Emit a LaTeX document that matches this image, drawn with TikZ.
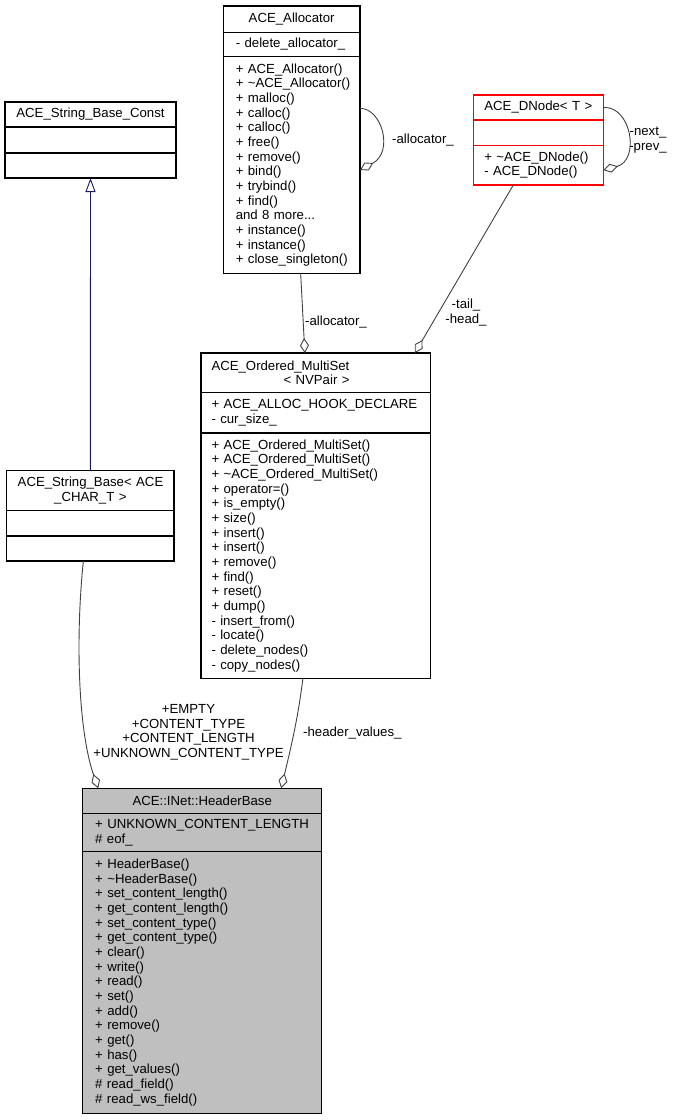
\documentclass[tikz,border=0pt]{standalone}
\usepackage{fontspec}
\setmainfont{Liberation Sans}
\usetikzlibrary{positioning,arrows.meta}
\definecolor{edgegrey}{HTML}{404040}
\definecolor{inhblue}{HTML}{191970}
\definecolor{hbfill}{HTML}{BFBFBF}
\begin{document}
\begin{tikzpicture}[x=1pt,y=-1pt,
    font=\fontsize{13.2}{14.67}\selectfont,
    part/.style={draw,line width=1.2pt,inner ysep=0pt,inner xsep=11pt,
      outer sep=0pt,align=left,text width=#1},
    lbl/.style={inner sep=0pt,align=center},
    comp/.style={draw=edgegrey,line width=0.9pt,
      -{Diamond[open,length=15pt,width=9pt]}},
    inh/.style={draw=inhblue,line width=0.9pt,
      -{Triangle[open,length=14pt,width=10pt]}}]
  \useasboundingbox (0,0) rectangle (675,1120);

  \node[part=149pt,align=center,minimum height=25pt,anchor=north west]
    (sbcname) at (5,102) {ACE\_String\_Base\_Const};
  \node[part=149pt,minimum height=26pt,below=0pt of sbcname] (sbcattr) {};
  \node[part=149pt,minimum height=25pt,below=0pt of sbcattr] (sbcmeth) {};

  \node[part=111.7pt,inner xsep=12.5pt,align=center,minimum height=26.3pt,
    anchor=north west] (allocname) at (223.3,6) {ACE\_Allocator};
  \node[part=111.7pt,inner xsep=12.5pt,minimum height=24.4pt,
    below=0pt of allocname] (allocattr) {-~delete\_allocator\_};
  \node[part=111.7pt,inner xsep=12.5pt,minimum height=216.6pt,
    below=0pt of allocattr] (allocmeth) {+~ACE\_Allocator()\\
    +~\textasciitilde ACE\_Allocator()\\+~malloc()\\+~calloc()\\+~calloc()\\
    +~free()\\+~remove()\\+~bind()\\+~trybind()\\+~find()\\and~8~more...\\
    +~instance()\\+~instance()\\+~close\_singleton()};

  \node[part=108pt,draw=red,align=center,minimum height=25pt,anchor=north west]
    (dnodename) at (473.3,95) {ACE\_DNode<~T~>};
  \node[part=108pt,draw=red,minimum height=25.3pt,below=0pt of dnodename]
    (dnodeattr) {};
  \node[part=108pt,draw=red,minimum height=39.7pt,below=0pt of dnodeattr]
    (dnodemeth) {+~\textasciitilde ACE\_DNode()\\-~ACE\_DNode()};

  \node[part=208.7pt,inner xsep=10.5pt,minimum height=39.7pt,anchor=north west]
    (omsname) at (201,353) {ACE\_Ordered\_MultiSet\\\hspace*{72pt}<~NVPair~>};
  \node[part=208.7pt,inner xsep=10.5pt,minimum height=40.3pt,below=0pt of omsname]
    (omsattr) {+~ACE\_ALLOC\_HOOK\_DECLARE\\-~cur\_size\_};
  \node[part=208.7pt,inner xsep=10.5pt,minimum height=245.7pt,below=0pt of omsattr]
    (omsmeth) {+~ACE\_Ordered\_MultiSet()\\+~ACE\_Ordered\_MultiSet()\\
    +~\textasciitilde ACE\_Ordered\_MultiSet()\\+~operator=()\\+~is\_empty()\\
    +~size()\\+~insert()\\+~insert()\\+~remove()\\+~find()\\+~reset()\\
    +~dump()\\-~insert\_from()\\-~locate()\\-~delete\_nodes()\\-~copy\_nodes()};

  \node[part=145.3pt,align=center,minimum height=40pt,anchor=north west]
    (sbname) at (6.7,470.7) {ACE\_String\_Base<~ACE\\\_CHAR\_T~>};
  \node[part=145.3pt,minimum height=25.3pt,below=0pt of sbname] (sbattr) {};
  \node[part=145.3pt,minimum height=25pt,below=0pt of sbattr] (sbmeth) {};

  \node[part=214pt,inner xsep=12.5pt,fill=hbfill,align=center,
    minimum height=25pt,anchor=north west] (hbname) at (82.7,788.3)
    {ACE::INet::HeaderBase};
  \node[part=214pt,inner xsep=12.5pt,fill=hbfill,minimum height=38.4pt,
    below=0pt of hbname] (hbattr) {+~UNKNOWN\_CONTENT\_LENGTH\\\#~eof\_};
  \node[part=214pt,inner xsep=12.5pt,fill=hbfill,minimum height=261.6pt,
    below=0pt of hbattr] (hbmeth)
    {+~HeaderBase()\\+~\textasciitilde HeaderBase()\\+~set\_content\_length()\\
    +~get\_content\_length()\\+~set\_content\_type()\\+~get\_content\_type()\\
    +~clear()\\+~write()\\+~read()\\+~set()\\+~add()\\+~remove()\\+~get()\\
    +~has()\\+~get\_values()\\\#~read\_field()\\\#~read\_ws\_field()};

  \node[lbl,anchor=west] (lblallocself) at (392,140) {-allocator\_};
  \node[lbl,anchor=west] (lblalloc) at (305,322) {-allocator\_};
  \node[lbl] (lbltail) at (466,312.5) {-tail\_\\-head\_};
  \node[lbl] (lblnext) at (648,140) {-next\_\\-prev\_};
  \node[lbl] (lblempty) at (188.5,732.2)
    {+EMPTY\\+CONTENT\_TYPE\\+CONTENT\_LENGTH\\+UNKNOWN\_CONTENT\_TYPE};
  \node[lbl,anchor=west] (lblheader) at (303,733) {-header\_values\_};

  \draw[inh] (sbname.north) -- (sbcmeth.south);
  \draw[comp] ([xshift=9pt]allocmeth.south) -- ([xshift=-11pt]omsname.north);
  \draw[comp] ([xshift=-25pt]dnodemeth.south) -- ([xshift=99pt]omsname.north);
  \draw[comp] ([yshift=-51.6pt]allocmeth.north east) .. controls +(22,0)
    and +(34,-18) .. ([yshift=-113.3pt]allocmeth.north east);
  \draw[comp] (dnodename.east) .. controls +(28,-2) and +(37,-10)
    .. ([yshift=-5pt]dnodemeth.east);
  \draw[comp] ([xshift=-7pt]sbmeth.south) .. controls +(-8,78) and +(-20,-58)
    .. ([xshift=-104pt]hbname.north);
  \draw[comp] ([xshift=-13pt]omsmeth.south) .. controls +(-5,41) and +(9,-38)
    .. ([xshift=79pt]hbname.north);
\end{tikzpicture}
\end{document}
